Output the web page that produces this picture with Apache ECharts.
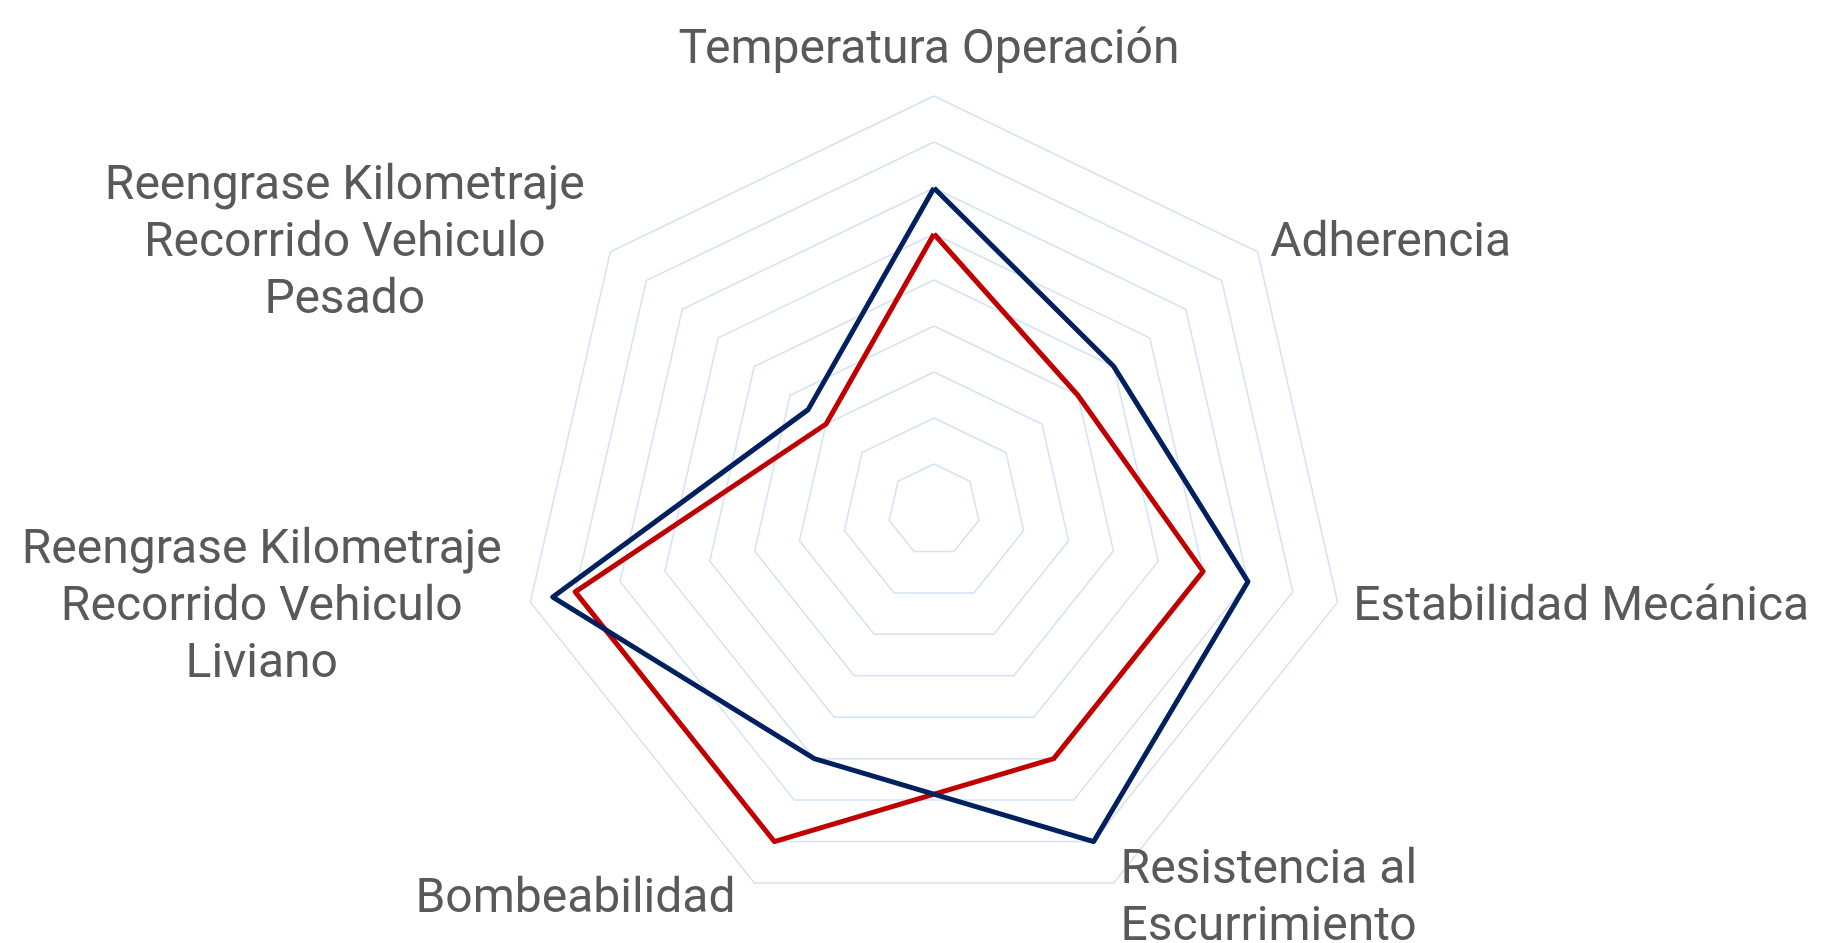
<!DOCTYPE html>
<html>
<head>
<meta charset="utf-8">
<script src="https://cdn.jsdelivr.net/npm/echarts@6/dist/echarts.min.js"></script>
<style>
html,body{margin:0;padding:0;background:#fff;}
#chart{width:1827px;height:943px;}
</style>
</head>
<body>
<div id="chart"></div>
<script>
// Categories in clockwise order starting at top
const categories = [
  'Temperatura Operación',
  'Adherencia',
  'Estabilidad Mecánica',
  'Resistencia al\nEscurrimiento',
  'Bombeabilidad',
  'Reengrase Kilometraje\nRecorrido Vehiculo\nLiviano',
  'Reengrase Kilometraje\nRecorrido Vehiculo\nPesado'
];
const seriesBlue = [7, 5, 7, 8, 6, 8.5, 3.5];
const seriesRed  = [6, 4, 6, 6, 8, 8, 3];
const maxValue = 9;
const levels = 9;

// ECharts places indicators counter-clockwise; reorder to get clockwise layout
const order = [0, 6, 5, 4, 3, 2, 1];
const indicator = order.map(i => ({ name: categories[i], max: maxValue, min: 0 }));
const blueData = order.map(i => seriesBlue[i]);
const redData = order.map(i => seriesRed[i]);

const font = { color: '#595959', fontFamily: 'Roboto', fontSize: 48 };

const chart = echarts.init(document.getElementById('chart'));
chart.setOption({
  backgroundColor: '#ffffff',
  animation: false,
  radar: {
    center: [934, 510],
    radius: 414,
    startAngle: 90,
    splitNumber: levels,
    shape: 'polygon',
    indicator: indicator,
    axisName: Object.assign({}, font, {
      lineHeight: 57,
      padding: [5, 0, 0, 0],
      formatter: function (name) {
        const idx = categories.indexOf(name);
        if (idx === 5 || idx === 6) {
          return name.split('\n').map(s => '{c|' + s + '}').join('\n');
        }
        if (idx === 4) {
          return '{b|' + name + '}';
        }
        if (idx === 0) {
          return '{t|' + name + '}';
        }
        return name;
      },
      rich: {
        c: Object.assign({}, font, { width: 506, align: 'center', lineHeight: 57 }),
        b: Object.assign({}, font, { width: 344, align: 'center', lineHeight: 57 }),
        t: Object.assign({}, font, { lineHeight: 59, padding: [0, 10, 0, 0] })
      }
    }),
    nameGap: 16,
    axisLine: { show: false },
    axisTick: { show: false },
    axisLabel: { show: false },
    splitArea: { show: false },
    splitLine: { lineStyle: { color: '#D3E2F4', width: 1.5 } }
  },
  series: [{
    type: 'radar',
    symbol: 'none',
    data: [
      { name: 'Serie 2', value: redData, lineStyle: { color: '#C00000', width: 5 } },
      { name: 'Serie 1', value: blueData, lineStyle: { color: '#002060', width: 5 } }
    ]
  }]
});
</script>
</body>
</html>
